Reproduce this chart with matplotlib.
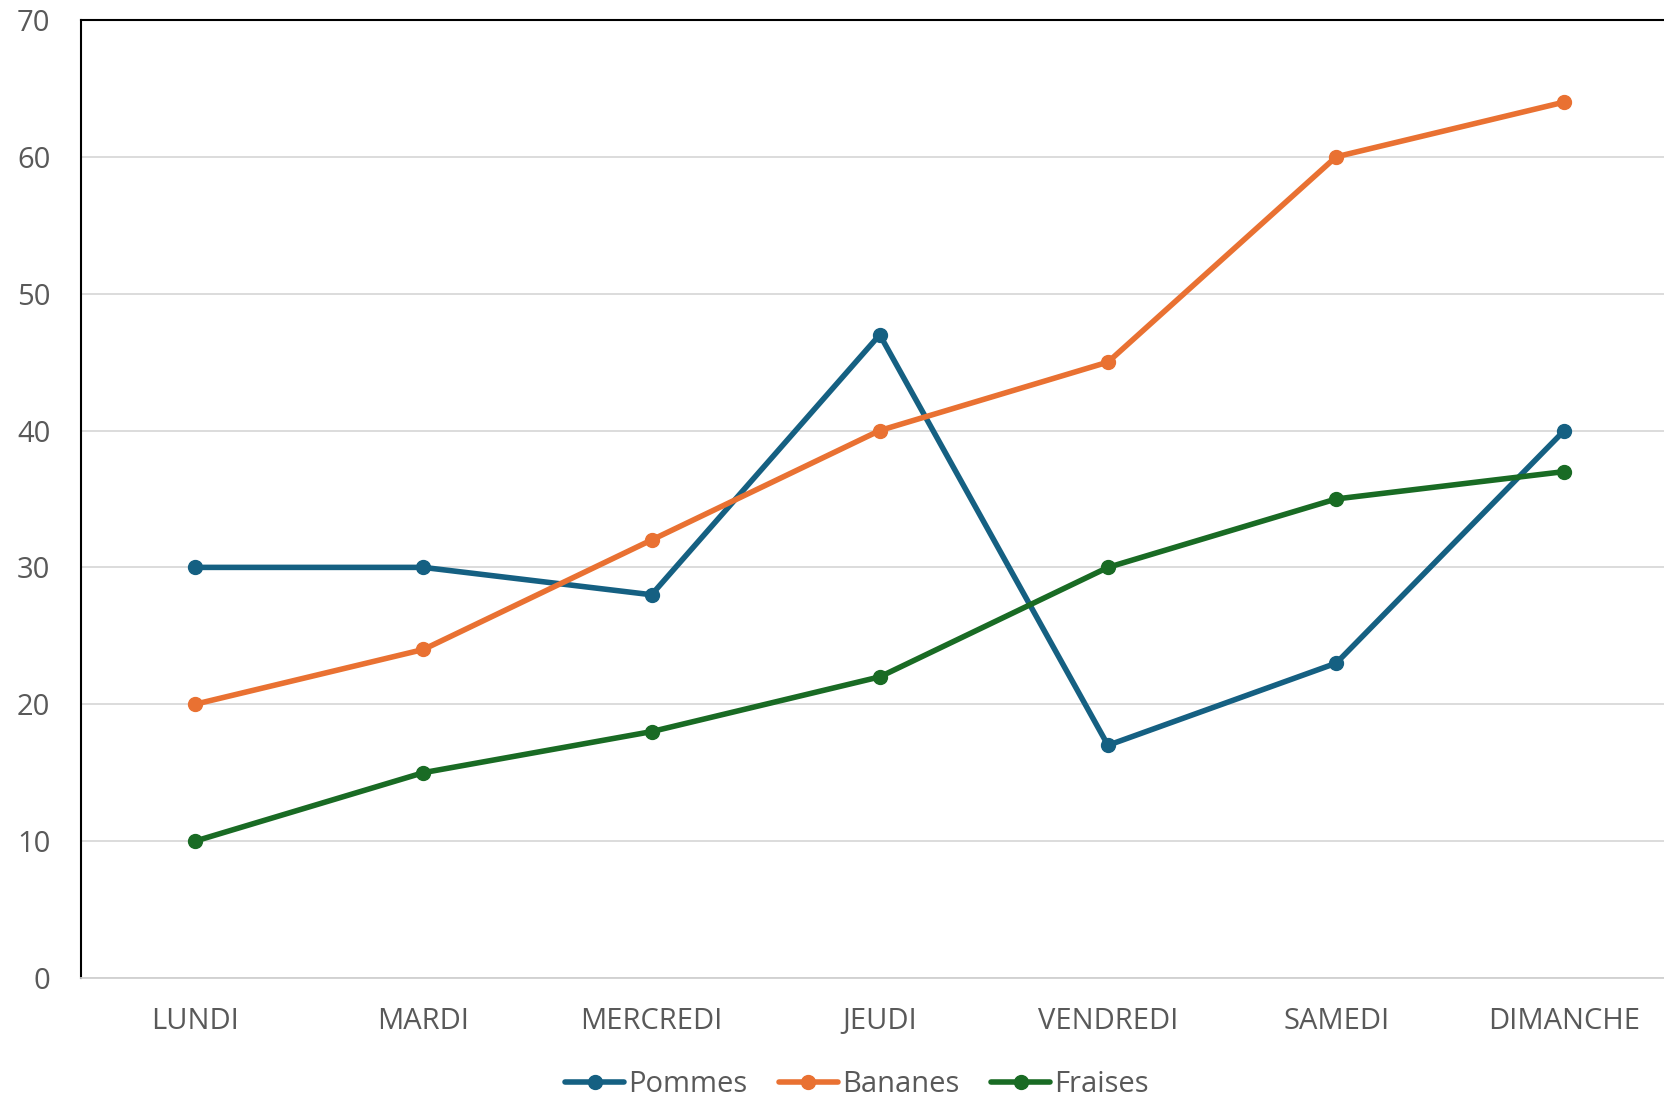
import matplotlib.pyplot as plt

days = ["LUNDI", "MARDI", "MERCREDI", "JEUDI", "VENDREDI", "SAMEDI", "DIMANCHE"]
pommes = [30, 30, 28, 47, 17, 23, 40]
bananes = [20, 24, 32, 40, 45, 60, 64]
fraises = [10, 15, 18, 22, 30, 35, 37]

plt.rcParams["font.family"] = ["Open Sans", "DejaVu Sans"]

fig = plt.figure(figsize=(16.64, 10.96), dpi=100)
ax = fig.add_axes([0.0487, 0.1077, 0.96, 0.8741])

x = list(range(len(days)))
series = [("Pommes", pommes, "#156082"),
          ("Bananes", bananes, "#E97132"),
          ("Fraises", fraises, "#196B24")]
for name, vals, col in series:
    ax.plot(x, vals, color=col, lw=4, marker="o", markersize=10,
            label=name, solid_capstyle="round", zorder=3)

ax.set_xlim(-0.5, 6.5)
ax.set_ylim(0, 70)
ax.set_yticks(range(0, 71, 10))
ax.set_xticks(x)
ax.set_xticklabels(days)
ax.grid(axis="y", color="#d9d9d9", lw=1.3)
ax.set_axisbelow(True)

for s in ["left", "top"]:
    ax.spines[s].set_color("black")
    ax.spines[s].set_linewidth(1.5)
ax.spines["right"].set_visible(False)
ax.spines["bottom"].set_color("#d0d0d0")
ax.spines["bottom"].set_linewidth(1.3)

ax.tick_params(axis="both", length=0, labelsize=21, labelcolor="#595959")
ax.tick_params(axis="y", pad=22)
ax.tick_params(axis="x", pad=21)

fig.legend(loc="lower center", bbox_to_anchor=(0.515, -0.027), ncol=3,
           frameon=False, fontsize=21, labelcolor="#595959",
           handlelength=2.0, handletextpad=0.15, columnspacing=1.1)

fig.savefig("out.png", dpi=100)
